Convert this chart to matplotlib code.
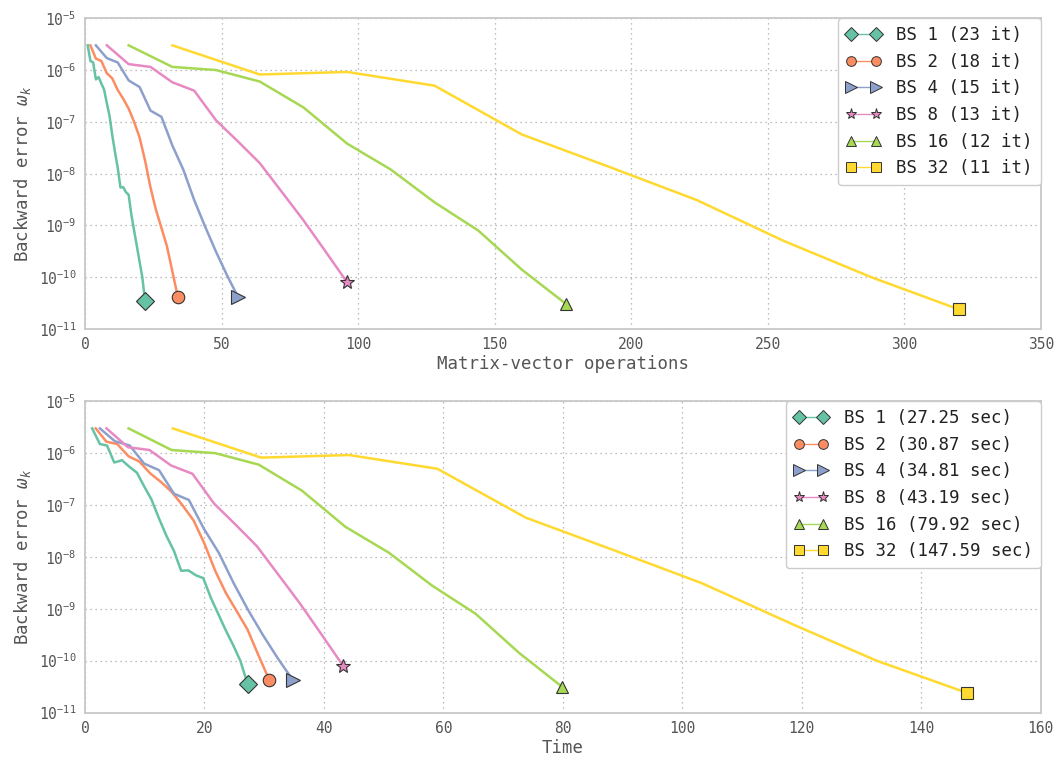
import numpy as np
import matplotlib
matplotlib.use('Agg')
import matplotlib.pyplot as plt
from matplotlib.lines import Line2D

plt.rcParams['font.family'] = 'DejaVu Sans Mono'
plt.rcParams['mathtext.fontset'] = 'custom'
plt.rcParams['mathtext.rm'] = 'DejaVu Sans Mono'
plt.rcParams['mathtext.it'] = 'DejaVu Sans Mono:italic'
plt.rcParams['mathtext.bf'] = 'DejaVu Sans Mono:bold'

# block sizes and their runs
block_sizes = [1, 2, 4, 8, 16, 32]
iters = [23, 18, 15, 13, 12, 11]
total_time = [27.25, 30.87, 34.81, 43.19, 79.92, 147.59]

# backward error per iteration
err_bs1 = [3.0e-6, 1.5e-6, 1.4e-6, 6.6e-7, 7.3e-7, 5.5e-7, 4.2e-7, 2.3e-7, 1.3e-7,
           5.5e-8, 2.6e-8, 1.3e-8, 5.4e-9, 5.5e-9, 4.4e-9, 3.9e-9, 1.6e-9, 8.0e-10,
           4.0e-10, 2.0e-10, 1.0e-10, 3.5e-11]
err_bs2 = [3.0e-6, 1.66e-6, 1.5e-6, 8.7e-7, 6.9e-7, 4.1e-7, 2.8e-7, 1.8e-7, 1.0e-7,
           5.0e-8, 1.8e-8, 5.4e-9, 2.0e-9, 9.0e-10, 4.0e-10, 1.3e-10, 4.2e-11]
err_bs4 = [3.0e-6, 1.7e-6, 1.4e-6, 6.3e-7, 4.7e-7, 1.65e-7, 1.25e-7, 3.5e-8, 1.2e-8,
           3.1e-9, 9.5e-10, 3.1e-10, 1.1e-10, 4.2e-11]
err_bs8 = [3.0e-6, 1.3e-6, 1.15e-6, 5.8e-7, 4.0e-7, 1.07e-7, 4.2e-8, 1.6e-8, 4.5e-9,
           1.26e-9, 3.2e-10, 8.0e-11]
err_bs16 = [3.0e-6, 1.15e-6, 1.0e-6, 6.0e-7, 1.9e-7, 3.8e-8, 1.2e-8, 2.8e-9, 8.0e-10,
            1.4e-10, 3.1e-11]
err_bs32 = [3.0e-6, 8.2e-7, 9.2e-7, 5.0e-7, 5.7e-8, 1.35e-8, 3.1e-9, 5.0e-10, 1.0e-10,
            2.4e-11]

# wall-clock time at each iteration (seconds)
t_bs1 = [1.2, 2.5, 3.7, 4.9, 6.2, 7.4, 8.7, 9.9, 11.1, 12.4, 13.6, 14.9, 16.1, 17.3,
         18.6, 19.8, 21.1, 22.3, 23.5, 24.8, 26.0, 27.25]
t_bs2 = [1.8, 3.6, 5.4, 7.3, 9.1, 10.9, 12.7, 14.5, 16.3, 18.2, 20.0, 21.8, 23.6, 25.4,
         27.2, 29.0, 30.87]
t_bs4 = [2.5, 5.0, 7.5, 9.9, 12.4, 14.9, 17.4, 19.9, 22.4, 24.9, 27.3, 29.8, 32.3, 34.81]
t_bs8 = [3.6, 7.2, 10.8, 14.4, 18.0, 21.6, 25.2, 28.8, 32.4, 36.0, 39.6, 43.19]
t_bs16 = [7.3, 14.5, 21.8, 29.1, 36.3, 43.6, 50.9, 58.1, 65.4, 72.7, 79.92]
t_bs32 = [14.7, 29.5, 44.2, 59.0, 73.8, 88.5, 103.3, 118.5, 132.5, 147.59]

errs = [err_bs1, err_bs2, err_bs4, err_bs8, err_bs16, err_bs32]
times = [t_bs1, t_bs2, t_bs4, t_bs8, t_bs16, t_bs32]

colors = ['#66c2a5', '#fc8d62', '#8da0cb', '#e78ac3', '#a6d854', '#ffd92f']
markers = ['D', 'o', '>', '*', '^', 's']
msizes = [9, 9, 10, 10, 9, 8]
leg_msizes = [7, 7, 8, 8, 7, 6.5]

grey = '#555555'


def style_axes(ax, xmax, xlabel):
    ax.set_yscale('log')
    ax.set_ylim(1e-11, 1e-5)
    ax.set_xlim(0, xmax)
    ax.minorticks_off()
    ax.grid(True, linestyle=(0, (1, 3)), color='#a8a8a8', linewidth=0.9)
    for s in ax.spines.values():
        s.set_color('#c8c8c8')
        s.set_linewidth(1.3)
    ax.tick_params(length=0, labelsize=10.5, colors=grey, pad=6)
    ax.set_xlabel(xlabel, fontsize=12.5, color=grey, labelpad=2)
    ax.set_ylabel(r'Backward error $\omega_k$', fontsize=12.5, color=grey)


def draw(ax, xs_list, labels):
    handles = []
    for xs, ys, c, m, ms, lms, lab in zip(xs_list, errs, colors, markers, msizes,
                                         leg_msizes, labels):
        ax.plot(xs, ys, color=c, lw=1.8, zorder=3)
        ax.plot(xs[-1], ys[-1], marker=m, ms=ms, color=c, mec='#333333', mew=0.8,
                linestyle='None', zorder=4, clip_on=False)
        handles.append(Line2D([], [], color=c, lw=1.0, marker=m, ms=lms, mfc=c,
                              mec='#333333', mew=0.7, label=lab))
    leg = ax.legend(handles=handles, loc='upper right', numpoints=2, fontsize=12.5,
                    borderaxespad=0, frameon=True, fancybox=True, framealpha=1,
                    handlelength=2.0, handletextpad=0.9, labelspacing=0.5,
                    borderpad=0.45)
    leg.get_frame().set_edgecolor('#cccccc')
    for t in leg.get_texts():
        t.set_color('#222222')


fig = plt.figure(figsize=(10.62, 7.6), dpi=100)
ax1 = fig.add_axes([0.080, 0.567, 0.900, 0.409])
ax2 = fig.add_axes([0.080, 0.0625, 0.900, 0.4095])

matvecs = [bs * np.arange(1, len(e) + 1) for bs, e in zip(block_sizes, errs)]
draw(ax1, matvecs, ['BS %d (%d it)' % (b, n) for b, n in zip(block_sizes, iters)])
style_axes(ax1, 350, 'Matrix-vector operations')

draw(ax2, times, ['BS %d (%.2f sec)' % (b, t) for b, t in zip(block_sizes, total_time)])
style_axes(ax2, 160, 'Time')

fig.savefig('out.png', dpi=100)
